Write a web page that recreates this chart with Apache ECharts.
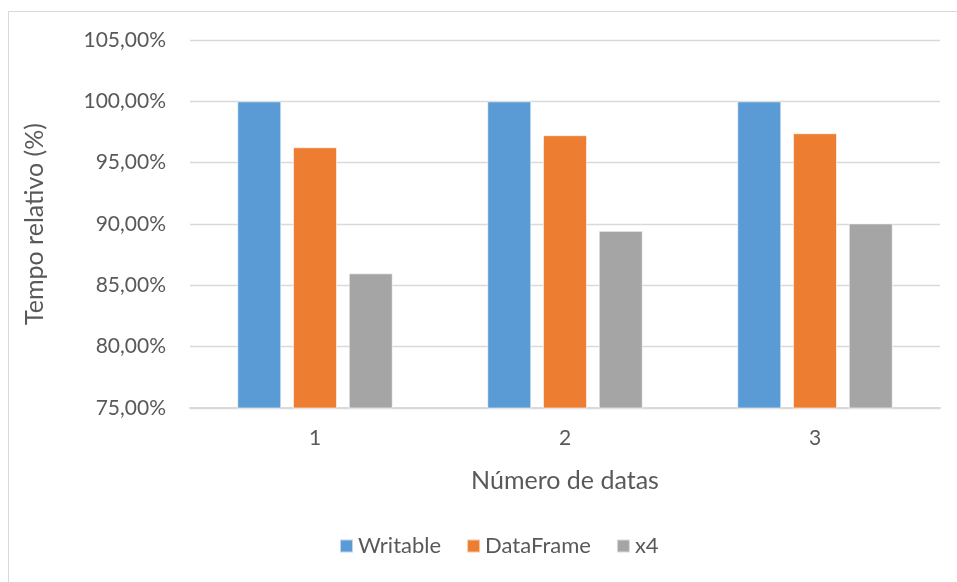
<!DOCTYPE html>
<html>
<head>
<meta charset="utf-8">
<script src="https://cdn.jsdelivr.net/npm/echarts@6/dist/echarts.min.js"></script>
<style>
  html, body { margin: 0; padding: 0; background: #fff; }
  #chart { width: 957px; height: 582px; }
</style>
</head>
<body>
<div id="chart"></div>
<script>
// Relative run time per number of dates, in percent
const categories = ['1', '2', '3'];
const writable = [100, 100, 100];
const dataFrame = [96.26, 97.24, 97.40];
const x4 = [85.98, 89.44, 90.05];
const seriesNames = ['Writable', 'DataFrame', 'x4'];
const colors = ['#5B9BD5', '#ED7D31', '#A5A5A5'];

const FONT = 'Lato';
const TEXT = '#595959';

function pct(v) {
  return v.toFixed(2).replace('.', ',') + '%';
}

const chart = echarts.init(document.getElementById('chart'), null, { renderer: 'canvas' });

const values = [writable, dataFrame, x4];
const series = values.map((vals, i) => ({
  name: seriesNames[i],
  type: 'bar',
  data: vals,
  barGap: '26.6%',
  barCategoryGap: '37.8%',
  itemStyle: { color: colors[i], borderColor: 'rgba(255,255,255,0.6)', borderWidth: 1 }
}));

chart.setOption({
  animation: false,
  color: colors,
  textStyle: { fontFamily: FONT },
  grid: { left: 190, right: 17, top: 40, bottom: 174, containLabel: false },
  graphic: [
    {
      type: 'polyline',
      shape: { points: [[8.5, 582], [8.5, 11.5], [957, 11.5]] },
      style: { stroke: '#d9d9d9', lineWidth: 1, fill: null },
      silent: true
    }
  ],
  legend: {
    bottom: 20,
    left: 334,
    itemWidth: 13,
    itemHeight: 13,
    itemGap: 25,
    icon: 'rect',
    textStyle: { color: TEXT, fontSize: 22, fontFamily: FONT },
    data: seriesNames
  },
  xAxis: {
    type: 'category',
    data: categories,
    name: 'Número de datas',
    nameLocation: 'middle',
    nameGap: 60,
    nameTextStyle: { color: TEXT, fontSize: 25, fontFamily: FONT },
    axisLine: { lineStyle: { color: '#d9d9d9', width: 2 } },
    axisTick: { show: false },
    axisLabel: { color: TEXT, fontSize: 21, margin: 20, fontFamily: FONT }
  },
  yAxis: {
    type: 'value',
    min: 75,
    max: 105,
    interval: 5,
    name: 'Tempo relativo (%)',
    nameLocation: 'middle',
    nameGap: 143,
    nameTextStyle: { color: TEXT, fontSize: 25, fontFamily: FONT },
    axisLine: { show: false },
    axisTick: { show: false },
    splitLine: { lineStyle: { color: '#d9d9d9', width: 1.3 } },
    axisLabel: { color: TEXT, fontSize: 21, margin: 24, fontFamily: FONT, formatter: pct }
  },
  series: series
});
</script>
</body>
</html>
